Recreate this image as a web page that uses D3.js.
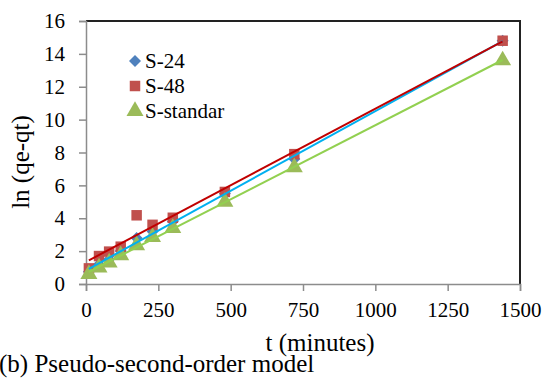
<!DOCTYPE html>
<html>
<head>
<meta charset="utf-8">
<script src="https://cdn.jsdelivr.net/npm/d3@7"></script>
<style>
  html, body { margin: 0; padding: 0; background: #fff; }
  svg { display: block; }
  text { font-family: "Liberation Serif", "Times New Roman", serif; fill: #000; }
</style>
</head>
<body>
<svg id="chart" width="546" height="378"></svg>
<script>
// Contact time (minutes)
const times = [10, 45, 80, 120, 175, 230, 300, 480, 720, 1440];
// ln(qe - qt) for each sample
const s24 = [0.75, 1.2, 1.5, 2.0, 2.8, 3.2, 3.8, 5.5, 7.6, 14.8];
const s48 = [0.95, 1.7, 1.97, 2.27, 4.18, 3.6, 4.03, 5.6, 7.9, 14.8];
const sStandar = [0.6, 1.0, 1.3, 1.75, 2.35, 2.85, 3.4, 5.0, 7.1, 13.6];

const seriesNames = ["S-24", "S-48", "S-standar"];
const xTicks = [0, 250, 500, 750, 1000, 1250, 1500];
const yTicks = [0, 2, 4, 6, 8, 10, 12, 14, 16];

const markerColors = ["#4F81BD", "#C0504D", "#9BBB59"];
const lineColors = ["#00B0F0", "#C00000", "#92D050"];
// diamond = square turned 45 degrees
const markerShapes = [d3.symbolSquare, d3.symbolSquare, d3.symbolTriangle];
const markerRotate = [45, 0, 0];
const markerSizes = [72, 110, 125];

const svg = d3.select("#chart");
const plotL = 86, plotR = 520, plotT = 21, plotB = 284;

const x = d3.scaleLinear().domain([0, 1500]).range([plotL, plotR]);
const y = d3.scaleLinear().domain([0, 16]).range([plotB, plotT]);

// plot frame: dark top and right edges
svg.append("path")
  .attr("d", `M${plotL},${plotT}H${plotR}V${plotB}`)
  .attr("fill", "none").attr("stroke", "#222").attr("stroke-width", 2);

// axes
const yAxis = svg.append("g").attr("transform", `translate(${plotL},0)`)
  .call(d3.axisLeft(y).tickValues(yTicks).tickSize(7).tickPadding(14).tickFormat(d3.format("d")));
const xAxis = svg.append("g").attr("transform", `translate(0,${plotB})`)
  .call(d3.axisBottom(x).tickValues(xTicks).tickSize(7).tickPadding(11).tickFormat(d3.format("d")));
[xAxis, yAxis].forEach(g => {
  g.selectAll(".domain").attr("stroke", "#8c8c8c").attr("stroke-width", 1.5);
  g.selectAll(".tick line").attr("stroke", "#8c8c8c").attr("stroke-width", 1.5);
  g.selectAll("text").attr("font-size", 21).attr("font-family", "Liberation Serif");
});

const data = [s24, s48, sStandar];

// markers
data.forEach((vals, i) => {
  svg.append("g").selectAll("path")
    .data(vals.map((v, j) => [times[j], v]))
    .join("path")
    .attr("transform", d => `translate(${x(d[0])},${y(d[1])}) rotate(${markerRotate[i]})`)
    .attr("d", d3.symbol().type(markerShapes[i]).size(markerSizes[i]))
    .attr("fill", markerColors[i]);
});

// least-squares trend lines
function fit(xs, ys) {
  const mx = d3.mean(xs), my = d3.mean(ys);
  let sxy = 0, sxx = 0;
  xs.forEach((xv, k) => { sxy += (xv - mx) * (ys[k] - my); sxx += (xv - mx) ** 2; });
  const b = sxy / sxx;
  return { b, a: my - b * mx };
}
data.forEach((vals, i) => {
  const { a, b } = fit(times, vals);
  const ends = d3.extent(times);
  svg.append("line")
    .attr("x1", x(ends[0])).attr("y1", y(a + b * ends[0]))
    .attr("x2", x(ends[1])).attr("y2", y(a + b * ends[1]))
    .attr("stroke", lineColors[i]).attr("stroke-width", 2);
});

// legend
const legend = svg.append("g");
seriesNames.forEach((name, i) => {
  const ly = 61 + i * 25;
  legend.append("path")
    .attr("transform", `translate(135,${ly}) rotate(${markerRotate[i]})`)
    .attr("d", d3.symbol().type(markerShapes[i]).size(markerSizes[i]))
    .attr("fill", markerColors[i]);
  legend.append("text").attr("x", 145).attr("y", ly + 7)
    .attr("font-size", 21).text(name);
});

// axis titles
svg.append("text")
  .attr("transform", `translate(29,162) rotate(-90)`)
  .attr("text-anchor", "middle").attr("font-size", 25).text("ln (qe-qt)");
svg.append("text")
  .attr("x", 320).attr("y", 351)
  .attr("text-anchor", "middle").attr("font-size", 25).text("t (minutes)");
svg.append("text")
  .attr("x", -1).attr("y", 372)
  .attr("font-size", 25).text("(b) Pseudo-second-order model");
</script>
</body>
</html>
